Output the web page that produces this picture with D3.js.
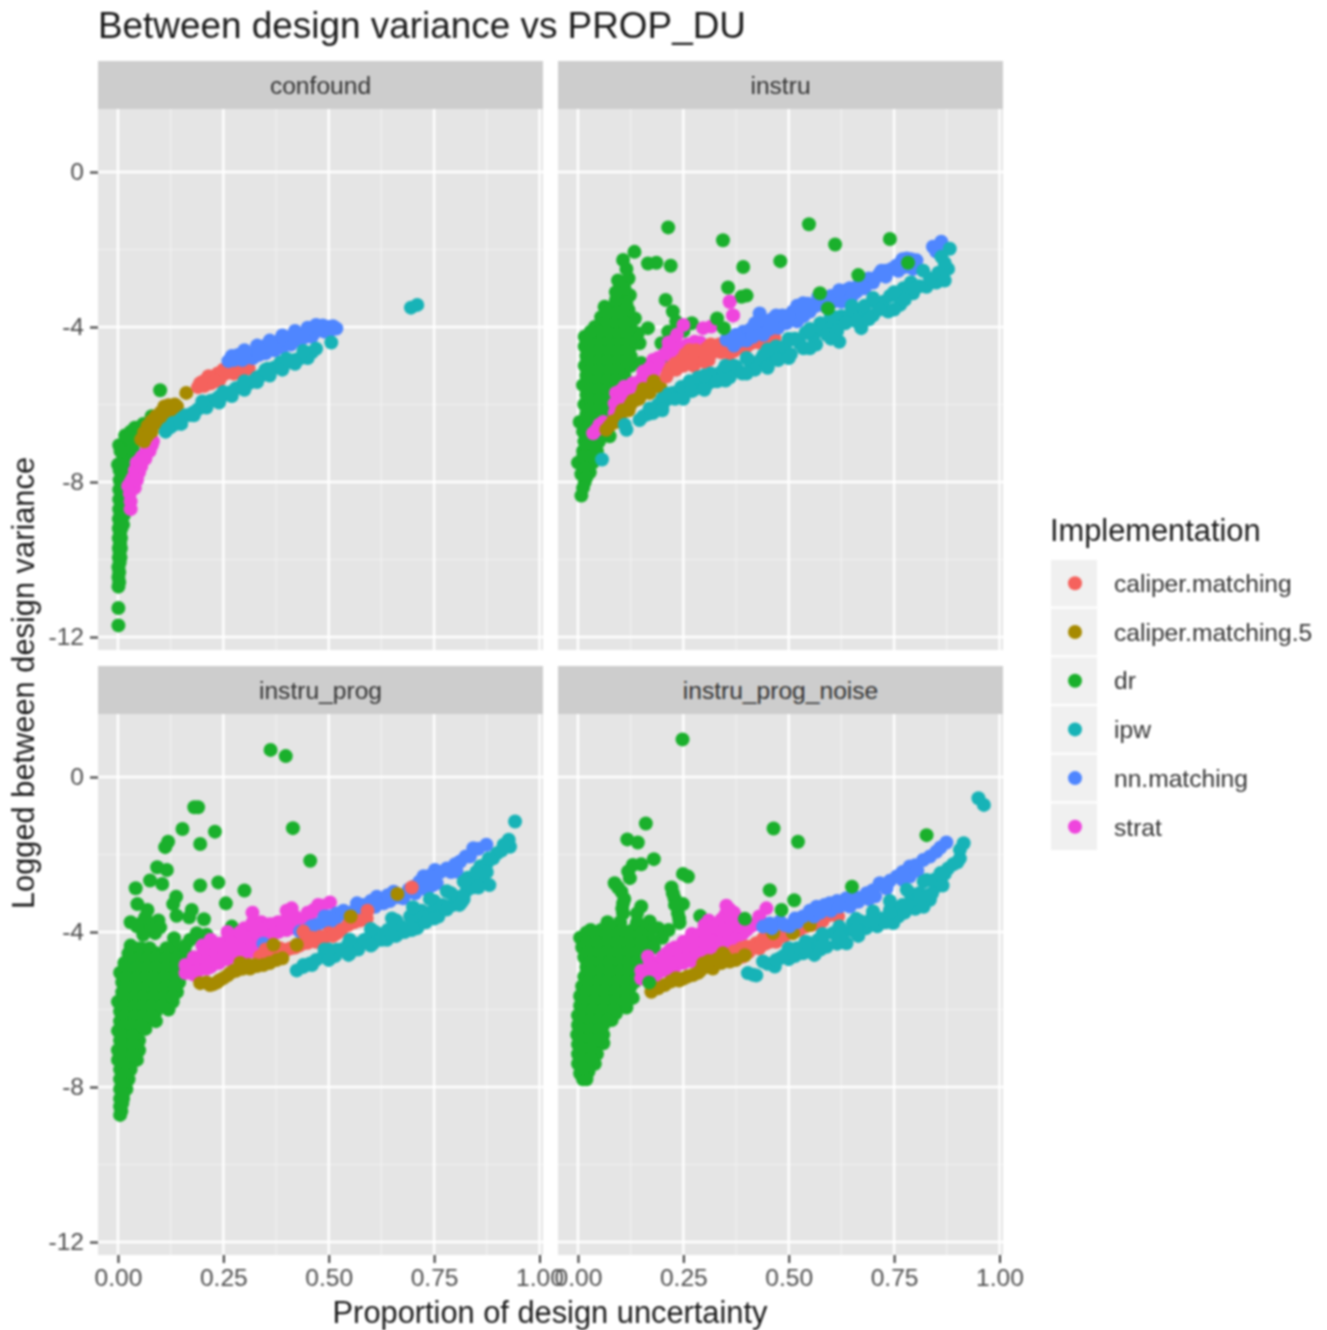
<!DOCTYPE html>
<html>
<head>
<meta charset="utf-8">
<script src="https://d3js.org/d3.v7.min.js"></script>
<style>
html,body{margin:0;padding:0;background:#fff;}
svg{display:block;filter:blur(0.9px);}
text{font-family:"Liberation Sans",Arial,sans-serif;}
</style>
</head>
<body>
<svg id="chart"></svg>
<script>
const width=1327;
const height=1330;

const implementations=['caliper.matching','caliper.matching.5','dr','ipw','nn.matching','strat'];
const colours=['#F5625D','#A68A00','#1AB02C','#17B3B7','#4F86FF','#EF45DD'];
const panelNames=['confound','instru','instru_prog','instru_prog_noise'];
const xTicks=[0,0.25,0.5,0.75,1];
const xMinor=[0.125,0.375,0.625,0.875];
const yTicks=[0,-4,-8,-12];
const yMinor=[-2,-6,-10];

// confound
const confoundDr=[[.001,-11.7],[.001,-11.25],[.001,-10.7],[.001,-10.45],[.001,-10.2],[.002,-9.95],[.006,-9.95],[.002,-9.7],[.007,-9.7],[.002,-9.45],[.007,-9.45],[.002,-9.2],[.008,-9.2],[.002,-8.95],[.008,-8.95],[.003,-8.7],[.01,-8.7],[.003,-8.45],[.012,-8.45],[.003,-8.2],[.012,-8.2],[.004,-7.95],[.016,-7.95],[.004,-7.7],[.018,-7.6],[0,-7.55],[.003,-7.05],[.012,-7.3],[.025,-7.4],[.02,-7.0],[.03,-6.95],[.017,-6.8],[.03,-6.7],[.04,-6.6],[.05,-6.6],[.08,-6.3],[.1,-5.63]];
const confoundDrMore=[[.003,-10.58],[.003,-10.32],[.004,-10.08],[.004,-9.82],[.005,-9.58],[.005,-9.32],[.005,-9.08],[.012,-9.1],[.006,-8.82],[.014,-8.85],[.007,-8.58],[.016,-8.6],[.008,-8.32],[.018,-8.35],[.009,-8.08],[.02,-8.05],[.012,-7.82],[.022,-7.8],[.01,-7.5],[.02,-7.25],[.006,-7.2],[.035,-7.15],[.028,-6.85],[.06,-6.5]];
const confoundStrat=[[.03,-8.5],[.024,-8.1],[.035,-7.9],[.04,-8.15],[.044,-7.5],[.05,-7.75],[.056,-7.35],[.067,-7.2],[.07,-7.05],[.083,-6.95]];
const confoundStratMore=[[.028,-8.3],[.03,-8.0],[.045,-7.95],[.04,-7.7],[.055,-7.6],[.05,-7.45],[.065,-7.4],[.075,-7.2],[.08,-7.05],[.03,-8.7]];
const confoundCal5=[[.055,-6.9],[.062,-6.72],[.07,-6.55],[.08,-6.7],[.08,-6.42],[.09,-6.3],[.1,-6.42],[.102,-6.2],[.115,-6.1],[.125,-6.15],[.135,-6.0],[.162,-5.7]];
const confoundCal5More=[[.062,-6.95],[.07,-6.8],[.075,-6.62],[.088,-6.5],[.095,-6.35],[.108,-6.28],[.11,-6.05],[.12,-6.02],[.13,-6.1],[.14,-6.05]];
const confoundCal=[[.19,-5.55],[.2,-5.42],[.21,-5.35],[.22,-5.45],[.237,-5.2],[.24,-5.38],[.255,-5.2],[.273,-5.07],[.285,-5.15],[.31,-5.07]];
const confoundCalMore=[[.195,-5.45],[.205,-5.52],[.215,-5.27],[.228,-5.32],[.245,-5.28],[.25,-5.1],[.265,-5.15],[.275,-5.2],[.295,-5.12],[.23,-5.4]];
const confoundNn=[[.262,-4.88],[.285,-4.72],[.305,-4.68],[.32,-4.8],[.344,-4.5],[.35,-4.68],[.365,-4.45],[.383,-4.35],[.39,-4.53],[.405,-4.28],[.423,-4.17],[.43,-4.35],[.445,-4.15],[.455,-4.13],[.46,-4.25],[.486,-3.96],[.49,-4.12],[.5,-4.0],[.518,-4.04]];
const confoundNnMore=[[.275,-4.85],[.295,-4.85],[.31,-4.78],[.33,-4.6],[.335,-4.72],[.355,-4.5],[.372,-4.6],[.375,-4.42],[.395,-4.32],[.41,-4.45],[.415,-4.22],[.44,-4.28],[.47,-4.12],[.475,-4.02],[.505,-4.08],[.51,-3.98],[.3,-4.72]];
const confoundNnThick=[[.27,-4.75],[.3,-4.6],[.33,-4.48],[.36,-4.35],[.39,-4.22],[.42,-4.1],[.45,-4.02],[.47,-3.95]];
const confoundIpw=[[.113,-6.7],[.125,-6.58],[.138,-6.5],[.152,-6.35],[.17,-6.27],[.19,-6.12],[.21,-5.97],[.23,-5.88],[.25,-5.76],[.27,-5.67],[.29,-5.55],[.31,-5.45],[.33,-5.3],[.35,-5.2],[.37,-5.05],[.39,-5.0],[.41,-4.87],[.43,-4.82],[.45,-4.7],[.47,-4.56],[.506,-4.4],[.695,-3.5],[.71,-3.43]];
const confoundIpwMore=[[.118,-6.62],[.13,-6.48],[.145,-6.42],[.16,-6.28],[.18,-6.2],[.2,-6.05],[.22,-5.9],[.24,-5.8],[.26,-5.72],[.28,-5.58],[.3,-5.5],[.32,-5.4],[.34,-5.25],[.36,-5.12],[.38,-5.03],[.4,-4.92],[.42,-4.85],[.44,-4.74],[.46,-4.65],[.355,-5.08],[.385,-4.92]];
const confoundIpwThick=[[.15,-6.5],[.18,-6.28],[.21,-6.08],[.24,-5.95],[.27,-5.78],[.3,-5.62],[.33,-5.42],[.36,-5.25],[.39,-5.1],[.42,-4.95],[.45,-4.8],[.2,-5.92],[.25,-5.68],[.3,-5.4],[.35,-5.1],[.4,-4.82],[.44,-4.62]];

// instru
const instruDr=[[.008,-8.35],[.016,-8.0],[.008,-7.8],[.028,-7.75],[0,-7.5],[.02,-7.5],[.035,-7.5],[.012,-7.2],[.03,-7.2],[.045,-7.2],[.015,-6.95],[.035,-6.95],[.05,-6.95],[.075,-6.82],[.012,-6.7],[.035,-6.7],[.055,-6.7],[.004,-6.45],[.025,-6.45],[.05,-6.45],[.02,-6.25],[.04,-6.25],[.065,-6.25],[.015,-6.0],[.04,-6.0],[.06,-6.0],[.08,-6.0],[.02,-5.75],[.04,-5.75],[.06,-5.75],[.08,-5.75],[.012,-5.5],[.035,-5.5],[.06,-5.5],[.08,-5.5],[.1,-5.5],[.02,-5.25],[.04,-5.25],[.065,-5.25],[.085,-5.25],[.11,-5.25],[.016,-5.0],[.04,-5.0],[.06,-5.0],[.08,-5.0],[.105,-5.0],[.125,-5.0],[.15,-4.93],[.02,-4.75],[.04,-4.75],[.06,-4.75],[.085,-4.75],[.105,-4.75],[.125,-4.75],[.016,-4.5],[.04,-4.5],[.06,-4.5],[.085,-4.5],[.105,-4.5],[.125,-4.5],[.146,-4.42],[.198,-4.42],[.2,-4.8],[.016,-4.25],[.04,-4.25],[.065,-4.25],[.085,-4.25],[.11,-4.25],[.13,-4.25],[.142,-4.16],[.04,-4.0],[.065,-4.0],[.085,-4.0],[.105,-4.0],[.125,-4.0],[.166,-4.03],[.214,-4.12],[.055,-3.75],[.08,-3.75],[.1,-3.75],[.12,-3.75],[.135,-3.78],[.063,-3.48],[.083,-3.48],[.105,-3.5],[.12,-3.56],[.1,-3.18],[.123,-3.18],[.095,-2.8],[.12,-2.75],[.107,-2.27],[.134,-2.06],[.166,-2.36],[.186,-2.34],[.22,-2.42],[.214,-1.43],[.208,-3.3],[.225,-3.6],[.233,-3.86],[.27,-3.9],[.25,-4.1]];
const instruDrMore=[[.025,-4.38],[.05,-4.38],[.075,-4.38],[.095,-4.38],[.12,-4.38],[.03,-4.62],[.05,-4.62],[.075,-4.62],[.095,-4.62],[.115,-4.62],[.03,-4.88],[.05,-4.88],[.07,-4.88],[.095,-4.88],[.115,-4.88],[.03,-5.12],[.05,-5.12],[.075,-5.12],[.095,-5.12],[.025,-5.38],[.05,-5.38],[.07,-5.38],[.09,-5.38],[.03,-5.62],[.05,-5.62],[.07,-5.62],[.03,-5.88],[.05,-5.88],[.07,-5.88],[.03,-6.12],[.05,-6.12],[.07,-6.12],[.03,-6.35],[.055,-6.35],[.025,-6.6],[.045,-6.6],[.025,-6.85],[.045,-6.85],[.022,-7.08],[.038,-7.08],[.012,-7.35],[.03,-7.35],[.018,-7.65],[.02,-7.88],[.012,-8.15],[.05,-4.12],[.075,-4.12],[.095,-4.12],[.115,-4.12],[.03,-4.12],[.07,-3.85],[.09,-3.85],[.11,-3.88],[.07,-3.62],[.095,-3.62],[.115,-3.4],[.09,-3.3],[.11,-3.0],[.1,-2.95],[.09,-3.1],[.115,-2.5]];
const instruStrat=[[.036,-6.74],[.051,-6.52],[.087,-6.22],[.087,-5.97],[.09,-5.7],[.11,-5.54],[.118,-5.8],[.15,-5.36],[.15,-5.55],[.178,-5.2],[.16,-5.25],[.178,-4.85],[.195,-5.0],[.225,-4.6],[.23,-4.33],[.215,-4.4],[.24,-4.8],[.277,-4.38],[.28,-4.55],[.297,-4.03],[.316,-3.99],[.36,-3.35],[.368,-3.7],[.25,-3.95]];
const instruStratMore=[[.044,-6.65],[.06,-6.45],[.09,-6.05],[.095,-5.85],[.1,-5.65],[.105,-5.95],[.12,-5.6],[.13,-5.45],[.14,-5.5],[.155,-5.15],[.17,-5.05],[.165,-5.4],[.18,-5.05],[.19,-4.8],[.215,-4.55],[.22,-4.4],[.235,-4.2],[.24,-4.55],[.225,-4.8],[.26,-4.45],[.29,-4.4],[.205,-4.7]];
const instruCal5=[[.067,-6.65],[.083,-6.44],[.1,-6.3],[.115,-6.14],[.125,-6.0],[.138,-5.88],[.15,-5.75],[.162,-5.62],[.175,-5.55],[.19,-5.45]];
const instruCal5More=[[.075,-6.55],[.09,-6.45],[.105,-6.15],[.12,-6.15],[.13,-5.9],[.145,-5.85],[.155,-5.6],[.17,-5.7],[.18,-5.4],[.195,-5.55]];
const instruCal=[[.21,-5.28],[.22,-5.05],[.233,-5.1],[.245,-4.85],[.26,-4.85],[.265,-4.6],[.275,-5.0],[.289,-4.76],[.305,-4.55],[.31,-4.85],[.328,-4.5],[.34,-4.65],[.36,-4.68],[.37,-4.62],[.4,-4.5],[.43,-4.4],[.466,-4.28]];
const instruCalMore=[[.215,-5.15],[.23,-4.95],[.25,-5.0],[.255,-4.7],[.27,-4.85],[.28,-4.6],[.295,-4.65],[.3,-4.9],[.32,-4.65],[.315,-4.45],[.335,-4.45],[.35,-4.55],[.38,-4.55],[.41,-4.42],[.445,-4.35]];
const instruNn=[[.352,-4.33],[.36,-4.3],[.37,-4.48],[.392,-4.12],[.4,-4.35],[.431,-3.65],[.431,-3.95],[.44,-4.2],[.471,-3.78],[.475,-4.02],[.51,-3.6],[.52,-3.85],[.534,-3.39],[.55,-3.6],[.574,-3.3],[.59,-3.5],[.613,-3.18],[.625,-3.35],[.637,-3.05],[.676,-2.88],[.66,-3.1],[.716,-2.62],[.7,-2.85],[.744,-2.5],[.73,-2.7],[.78,-2.23],[.803,-2.28],[.795,-2.5],[.775,-2.45],[.842,-1.93],[.862,-1.8],[.85,-2.05]];
const instruNnMore=[[.375,-4.2],[.385,-4.35],[.41,-4.05],[.415,-4.25],[.445,-3.85],[.455,-4.05],[.46,-3.8],[.485,-3.7],[.495,-3.9],[.5,-3.7],[.525,-3.55],[.535,-3.72],[.545,-3.4],[.565,-3.45],[.58,-3.42],[.6,-3.2],[.605,-3.35],[.625,-3.15],[.645,-3.0],[.65,-3.2],[.665,-2.95],[.69,-2.75],[.68,-3.0],[.71,-2.7],[.73,-2.55],[.755,-2.42],[.765,-2.35],[.79,-2.25],[.76,-2.55]];
const instruNnThick=[[.42,-3.9],[.47,-3.7],[.52,-3.45],[.57,-3.22],[.62,-3.05],[.67,-2.8],[.72,-2.55],[.77,-2.25]];
const instruIpw=[[.057,-7.42],[.115,-6.65],[.111,-6.52],[.146,-6.4],[.165,-6.25],[.178,-6.22],[.19,-6.0],[.21,-5.88],[.225,-5.7],[.241,-5.67],[.26,-5.5],[.275,-5.62],[.289,-5.45],[.305,-5.5],[.32,-5.4],[.336,-5.19],[.352,-5.25],[.37,-5.0],[.384,-5.15],[.405,-4.85],[.423,-4.94],[.44,-4.72],[.455,-4.76],[.478,-4.68],[.47,-4.5],[.5,-4.35],[.526,-4.42],[.54,-4.15],[.558,-4.25],[.575,-3.9],[.6,-4.05],[.62,-4.38],[.605,-3.9],[.625,-3.72],[.645,-3.73],[.672,-4.03],[.676,-3.65],[.69,-3.8],[.708,-3.39],[.736,-3.6],[.725,-3.35],[.764,-3.43],[.772,-3.0],[.795,-3.13],[.79,-2.85],[.827,-2.96],[.819,-2.55],[.85,-2.85],[.866,-2.66],[.878,-2.5],[.862,-2.19],[.87,-2.35],[.882,-1.98]];
const instruIpwMore=[[.155,-6.3],[.17,-6.1],[.185,-6.1],[.2,-5.85],[.2,-6.1],[.215,-5.72],[.23,-5.85],[.245,-5.55],[.25,-5.75],[.265,-5.4],[.27,-5.65],[.285,-5.3],[.3,-5.55],[.315,-5.2],[.33,-5.4],[.345,-5.1],[.36,-5.3],[.375,-5.02],[.39,-5.2],[.41,-4.95],[.42,-5.1],[.435,-4.82],[.45,-5.0],[.46,-4.6],[.475,-4.85],[.49,-4.5],[.505,-4.7],[.515,-4.3],[.535,-4.55],[.55,-4.1],[.565,-4.45],[.58,-4.05],[.59,-4.2],[.61,-3.75],[.615,-4.1],[.635,-3.9],[.65,-3.55],[.66,-3.85],[.68,-3.45],[.7,-3.7],[.715,-3.55],[.74,-3.2],[.75,-3.55],[.76,-3.2],[.775,-3.3],[.8,-3.0],[.81,-2.95],[.835,-2.75],[.855,-2.6],[.87,-2.8]];
const instruIpwThick=[[.2,-6.15],[.25,-5.85],[.3,-5.62],[.35,-5.38],[.4,-5.2],[.45,-5.05],[.5,-4.8],[.55,-4.55],[.6,-4.3],[.3,-5.25],[.35,-5.0],[.4,-4.8],[.45,-4.58],[.5,-4.3],[.55,-4.05],[.6,-3.72],[.65,-3.45],[.7,-3.25],[.75,-3.1]];
const instruDrTop=[[.783,-2.34],[.593,-3.52],[.574,-3.13],[.665,-2.66],[.74,-1.73],[.61,-1.87],[.548,-1.35],[.48,-2.3],[.392,-2.45],[.344,-1.76],[.356,-2.98],[.388,-3.22],[.4,-3.19],[.33,-3.78],[.346,-4.03]];
const instruStratTop=[[.36,-3.35],[.368,-3.7]];

// instru_prog
const progDr=[[.362,.7],[.398,.54],[.181,-.78],[.19,-.78],[.153,-1.34],[.23,-1.41],[.195,-1.73],[.119,-1.67],[.112,-1.81],[.415,-1.32],[.456,-2.16],[.093,-2.33],[.116,-2.4],[.076,-2.67],[.105,-2.76],[.042,-2.87],[.195,-2.8],[.238,-2.72],[.3,-2.93],[.256,-3.26],[.138,-3.09],[.131,-3.28],[.046,-3.28],[.07,-3.43],[.139,-3.58],[.175,-3.43],[.169,-3.62],[.204,-3.67],[.096,-3.7],[.03,-3.75],[.056,-3.77],[.072,-3.95],[.088,-4.03],[.06,-4.07],[.133,-4.16],[.187,-4.03],[.171,-4.2],[.21,-4.07],[.27,-3.86],[.03,-4.35],[.135,-4.4],[.025,-4.55],[.045,-4.55],[.07,-4.55],[.09,-4.55],[.11,-4.55],[.13,-4.55],[.16,-4.55],[.015,-4.8],[.035,-4.8],[.06,-4.8],[.08,-4.8],[.1,-4.8],[.125,-4.8],[.15,-4.8],[.005,-5.05],[.03,-5.05],[.05,-5.05],[.075,-5.05],[.095,-5.05],[.12,-5.05],[.145,-5.05],[.01,-5.3],[.035,-5.3],[.06,-5.3],[.08,-5.3],[.105,-5.3],[.125,-5.3],[.145,-5.3],[.01,-5.55],[.03,-5.55],[.05,-5.55],[.075,-5.55],[.095,-5.55],[.12,-5.55],[.14,-5.55],[0,-5.8],[.025,-5.8],[.05,-5.8],[.07,-5.8],[.095,-5.8],[.12,-5.8],[.13,-5.8],[.005,-6.05],[.03,-6.05],[.05,-6.05],[.07,-6.05],[.09,-6.05],[.12,-6.0],[.005,-6.3],[.025,-6.3],[.045,-6.3],[.07,-6.3],[.09,-6.3],[0,-6.55],[.02,-6.55],[.045,-6.55],[.065,-6.5],[.005,-6.8],[.025,-6.8],[.05,-6.8],[0,-7.05],[.025,-7.05],[.05,-7.05],[0,-7.3],[.02,-7.3],[.045,-7.3],[.005,-7.55],[.03,-7.55],[.005,-7.8],[.025,-7.8],[.005,-8.05],[.02,-8.05],[.005,-8.3],[.012,-8.3],[.005,-8.5],[.005,-8.72]];
const progDrMore=[[.04,-4.42],[.055,-4.42],[.075,-4.42],[.115,-4.42],[.155,-4.68],[.03,-4.68],[.05,-4.68],[.07,-4.68],[.09,-4.68],[.115,-4.68],[.14,-4.68],[.02,-4.92],[.045,-4.92],[.07,-4.92],[.09,-4.92],[.115,-4.92],[.135,-4.92],[.02,-5.18],[.045,-5.18],[.065,-5.18],[.085,-5.18],[.11,-5.18],[.135,-5.18],[.02,-5.42],[.045,-5.42],[.07,-5.42],[.09,-5.42],[.115,-5.42],[.135,-5.42],[.015,-5.68],[.04,-5.68],[.06,-5.68],[.085,-5.68],[.11,-5.68],[.13,-5.68],[.015,-5.92],[.04,-5.92],[.06,-5.92],[.08,-5.92],[.105,-5.92],[.015,-6.18],[.04,-6.18],[.06,-6.18],[.08,-6.18],[.015,-6.42],[.035,-6.42],[.055,-6.42],[.012,-6.68],[.035,-6.68],[.012,-6.92],[.035,-6.92],[.012,-7.18],[.035,-7.18],[.012,-7.42],[.015,-7.68],[.012,-7.92],[.012,-8.18],[.01,-8.42],[.008,-8.62],[.055,-3.9],[.045,-3.85],[.08,-3.85],[.1,-3.88],[.065,-3.62],[.16,-4.35],[.2,-4.2]];
const progStrat=[[.16,-5.06],[.16,-4.85],[.18,-5.1],[.18,-4.9],[.18,-4.65],[.2,-4.85],[.2,-4.6],[.2,-4.35],[.22,-4.9],[.22,-4.65],[.22,-4.4],[.22,-4.2],[.24,-4.8],[.24,-4.55],[.24,-4.3],[.26,-4.7],[.26,-4.45],[.26,-4.2],[.26,-4.0],[.28,-4.6],[.28,-4.35],[.28,-4.1],[.3,-4.6],[.3,-4.3],[.3,-4.05],[.3,-3.9],[.32,-4.5],[.32,-4.2],[.32,-3.95],[.32,-3.75],[.319,-3.5],[.34,-4.2],[.34,-3.95],[.34,-3.75],[.36,-4.05],[.36,-3.8],[.38,-4.0],[.38,-3.75],[.4,-3.95],[.4,-3.7],[.4,-3.45],[.412,-3.39],[.42,-3.9],[.42,-3.6],[.44,-3.75],[.46,-3.5],[.475,-3.3],[.464,-3.43],[.503,-3.24]];
const progStratMore=[[.17,-4.95],[.19,-4.75],[.19,-5.0],[.21,-4.7],[.21,-4.95],[.21,-4.45],[.23,-4.75],[.23,-4.5],[.23,-4.3],[.25,-4.65],[.25,-4.4],[.27,-4.55],[.27,-4.3],[.27,-4.1],[.29,-4.45],[.29,-4.2],[.29,-4.0],[.31,-4.4],[.31,-4.15],[.33,-4.35],[.33,-4.05],[.33,-3.85],[.35,-4.15],[.35,-3.9],[.37,-4.0],[.37,-3.8],[.39,-3.9],[.39,-3.75],[.41,-3.8],[.41,-3.55],[.43,-3.85],[.43,-3.7],[.45,-3.65],[.45,-3.5],[.485,-3.32]];
const progNn=[[.345,-4.3],[.432,-3.99],[.448,-3.95],[.471,-3.82],[.503,-3.73],[.519,-3.52],[.558,-3.47],[.567,-3.26],[.614,-3.09],[.63,-3.26],[.654,-2.96],[.677,-3.13],[.701,-2.83],[.725,-2.56],[.733,-2.91],[.752,-2.4],[.756,-2.74],[.78,-2.36],[.803,-2.44],[.812,-2.18],[.843,-1.84],[.874,-1.75],[.835,-2.05],[.49,-3.6],[.59,-3.3]];
const progNnMore=[[.46,-3.85],[.485,-3.75],[.5,-3.6],[.515,-3.7],[.535,-3.45],[.545,-3.6],[.58,-3.3],[.585,-3.45],[.6,-3.2],[.61,-3.35],[.64,-3.05],[.645,-3.2],[.665,-3.1],[.69,-2.9],[.705,-3.0],[.715,-2.7],[.74,-2.55],[.745,-2.8],[.765,-2.45],[.79,-2.45],[.8,-2.25],[.825,-2.05],[.855,-1.85]];
const progCal=[[.337,-4.63],[.369,-4.55],[.384,-4.42],[.4,-4.46],[.44,-3.99],[.44,-4.29],[.47,-4.25],[.48,-4.12],[.5,-4.03],[.52,-4.03],[.546,-3.82],[.59,-3.65],[.592,-3.45],[.697,-2.85],[.35,-4.45],[.42,-4.4]];
const progCalMore=[[.355,-4.55],[.39,-4.5],[.41,-4.42],[.43,-4.35],[.45,-4.28],[.46,-4.15],[.49,-4.15],[.51,-4.1],[.53,-3.95],[.56,-3.75],[.575,-3.7]];
const progCal5=[[.195,-5.32],[.218,-5.37],[.25,-5.19],[.266,-5.06],[.29,-4.8],[.313,-4.94],[.345,-4.85],[.377,-4.72],[.369,-4.33],[.424,-4.33],[.552,-3.6],[.663,-3.02],[.235,-5.3],[.28,-5.0],[.33,-4.88]];
const progCal5More=[[.21,-5.3],[.225,-5.35],[.24,-5.25],[.26,-5.12],[.275,-5.0],[.295,-4.95],[.31,-4.85],[.325,-4.85],[.36,-4.8],[.39,-4.68]];
const progIpw=[[.424,-4.99],[.44,-4.9],[.456,-4.81],[.487,-4.63],[.49,-4.45],[.519,-4.46],[.547,-4.59],[.547,-4.3],[.574,-4.29],[.598,-4.12],[.61,-4.0],[.638,-4.2],[.654,-3.9],[.66,-3.7],[.697,-3.95],[.693,-3.6],[.72,-3.45],[.74,-3.5],[.75,-3.2],[.78,-3.34],[.79,-3.0],[.816,-3.22],[.828,-2.92],[.83,-2.6],[.867,-2.57],[.881,-2.79],[.86,-2.3],[.875,-2.23],[.89,-2.1],[.899,-1.97],[.93,-1.8],[.927,-1.62],[.942,-1.15]];
const progIpwMore=[[.44,-4.85],[.47,-4.72],[.5,-4.58],[.515,-4.62],[.53,-4.45],[.56,-4.45],[.57,-4.45],[.585,-4.2],[.605,-4.3],[.62,-4.05],[.625,-4.2],[.64,-3.95],[.66,-4.1],[.67,-3.85],[.68,-4.0],[.7,-3.75],[.71,-3.9],[.725,-3.6],[.73,-3.75],[.755,-3.45],[.76,-3.6],[.77,-3.3],[.795,-3.3],[.805,-3.1],[.81,-3.3],[.82,-3.05],[.84,-2.85],[.85,-2.7],[.86,-2.55],[.855,-2.85],[.875,-2.45],[.88,-2.1],[.91,-1.9],[.915,-1.75]];
const progIpwThick=[[.5,-4.45],[.55,-4.2],[.6,-3.92],[.65,-3.65],[.7,-3.36],[.74,-3.15],[.78,-2.95],[.82,-2.7],[.85,-2.45],[.46,-4.85],[.5,-4.72],[.55,-4.55],[.6,-4.35],[.65,-4.1],[.7,-3.92],[.75,-3.65],[.78,-3.42],[.82,-3.15]];

// instru_prog_noise
const noiseDr=[[.248,.97],[.161,-1.2],[.117,-1.61],[.142,-1.69],[.18,-2.12],[.15,-2.25],[.13,-2.27],[.119,-2.44],[.123,-2.61],[.087,-2.74],[.103,-2.96],[.249,-2.5],[.261,-2.57],[.222,-2.85],[.229,-3.13],[.249,-3.28],[.107,-3.26],[.15,-3.34],[.107,-3.52],[.14,-3.52],[.237,-3.52],[.241,-3.76],[.29,-3.59],[.07,-3.75],[.1,-3.75],[.14,-3.75],[.17,-3.73],[.03,-3.95],[.055,-3.95],[.08,-3.95],[.105,-3.95],[.13,-3.95],[.16,-3.95],[.19,-3.9],[.215,-3.95],[.005,-4.15],[.03,-4.15],[.055,-4.15],[.08,-4.15],[.105,-4.15],[.125,-4.2],[.17,-4.15],[.2,-4.15],[.18,-4.25],[.01,-4.4],[.035,-4.4],[.06,-4.4],[.08,-4.4],[.105,-4.4],[.135,-4.4],[.16,-4.35],[.18,-4.4],[.015,-4.65],[.04,-4.65],[.06,-4.65],[.085,-4.65],[.105,-4.65],[.13,-4.65],[.15,-4.65],[.02,-4.9],[.045,-4.9],[.065,-4.9],[.09,-4.9],[.11,-4.9],[.135,-4.9],[.15,-4.9],[.015,-5.15],[.035,-5.15],[.06,-5.15],[.08,-5.15],[.105,-5.15],[.125,-5.15],[.145,-5.15],[.01,-5.4],[.03,-5.4],[.055,-5.4],[.08,-5.4],[.1,-5.4],[.125,-5.4],[.005,-5.65],[.03,-5.65],[.05,-5.65],[.075,-5.65],[.1,-5.65],[.13,-5.7],[.005,-5.9],[.025,-5.9],[.05,-5.9],[.075,-5.9],[.1,-5.9],[.115,-5.95],[0,-6.15],[.02,-6.15],[.045,-6.15],[.07,-6.15],[.09,-6.1],[0,-6.4],[.02,-6.4],[.04,-6.4],[.06,-6.4],[.08,-6.27],[-.002,-6.65],[.02,-6.65],[.04,-6.65],[.06,-6.65],[0,-6.9],[.02,-6.9],[.04,-6.9],[.06,-6.87],[0,-7.15],[.02,-7.15],[.045,-7.15],[0,-7.4],[.02,-7.4],[.04,-7.4],[.005,-7.65],[.025,-7.6],[.012,-7.8],[.02,-7.8]];
const noiseDrMore=[[.02,-4.02],[.045,-4.05],[.07,-4.05],[.095,-4.05],[.12,-4.05],[.15,-4.05],[.02,-4.28],[.045,-4.28],[.07,-4.28],[.095,-4.28],[.12,-4.28],[.15,-4.25],[.025,-4.52],[.05,-4.52],[.07,-4.52],[.095,-4.52],[.12,-4.52],[.145,-4.52],[.03,-4.78],[.055,-4.78],[.075,-4.78],[.1,-4.78],[.12,-4.78],[.14,-4.78],[.03,-5.02],[.055,-5.02],[.075,-5.02],[.1,-5.02],[.12,-5.02],[.14,-5.02],[.025,-5.28],[.05,-5.28],[.07,-5.28],[.095,-5.28],[.115,-5.28],[.135,-5.28],[.02,-5.52],[.045,-5.52],[.065,-5.52],[.09,-5.52],[.115,-5.52],[.015,-5.78],[.04,-5.78],[.065,-5.78],[.09,-5.78],[.115,-5.78],[.015,-6.02],[.035,-6.02],[.06,-6.02],[.085,-6.02],[.012,-6.28],[.03,-6.28],[.05,-6.28],[.07,-6.28],[.01,-6.52],[.03,-6.52],[.05,-6.52],[.01,-6.78],[.03,-6.78],[.05,-6.78],[.01,-7.02],[.03,-7.02],[.01,-7.28],[.03,-7.28],[.012,-7.52],[.105,-3.4],[.11,-3.15],[.095,-2.85],[.23,-3.3],[.225,-3.0],[.24,-3.65]];
const noiseStrat=[[.15,-5.2],[.15,-5.0],[.17,-5.3],[.17,-5.05],[.17,-4.75],[.166,-4.63],[.19,-5.05],[.19,-4.8],[.21,-5.0],[.21,-4.75],[.21,-4.55],[.23,-4.9],[.23,-4.65],[.23,-4.4],[.25,-4.8],[.25,-4.55],[.25,-4.25],[.27,-4.75],[.27,-4.5],[.27,-4.2],[.27,-4.05],[.29,-4.55],[.29,-4.3],[.29,-4.05],[.31,-4.45],[.31,-4.2],[.31,-3.95],[.31,-3.7],[.33,-4.3],[.33,-4.05],[.33,-3.8],[.35,-4.3],[.35,-4.05],[.35,-3.8],[.35,-3.55],[.352,-3.32],[.37,-4.2],[.37,-3.95],[.37,-3.7],[.37,-3.5],[.39,-4.05],[.39,-3.8],[.41,-3.85],[.43,-3.75],[.43,-3.6],[.447,-3.39]];
const noiseStratMore=[[.16,-5.12],[.18,-4.92],[.18,-5.18],[.2,-4.9],[.2,-4.65],[.22,-4.85],[.22,-4.6],[.22,-4.45],[.24,-4.72],[.24,-4.45],[.26,-4.65],[.26,-4.35],[.28,-4.6],[.28,-4.4],[.28,-4.18],[.3,-4.5],[.3,-4.25],[.3,-4.0],[.3,-3.82],[.32,-4.38],[.32,-4.12],[.32,-3.88],[.34,-4.2],[.34,-3.95],[.34,-3.68],[.36,-4.18],[.36,-3.9],[.36,-3.62],[.38,-4.1],[.38,-3.85],[.38,-3.65],[.4,-3.95],[.42,-3.8],[.36,-3.42]];
const noiseCal=[[.388,-4.42],[.392,-4.63],[.4,-4.38],[.423,-4.29],[.44,-4.16],[.455,-4.25],[.463,-4.2],[.479,-4.12],[.51,-4.0],[.54,-3.86],[.567,-3.77],[.597,-3.56],[.617,-3.6]];
const noiseCalMore=[[.37,-4.5],[.38,-4.6],[.405,-4.52],[.41,-4.38],[.43,-4.42],[.445,-4.3],[.47,-4.25],[.49,-4.1],[.525,-3.95],[.555,-3.82],[.58,-3.72]];
const noiseCal5=[[.174,-5.54],[.206,-5.37],[.233,-5.19],[.25,-5.2],[.273,-5.11],[.297,-4.81],[.32,-4.94],[.344,-4.55],[.36,-4.76],[.33,-4.7],[.29,-5.0],[.396,-4.6],[.463,-4.03],[.51,-4.03],[.55,-3.82]];
const noiseCal5More=[[.19,-5.45],[.22,-5.28],[.24,-5.25],[.26,-5.15],[.285,-5.05],[.305,-4.9],[.31,-4.75],[.34,-4.8],[.35,-4.65],[.375,-4.72]];
const noiseNn=[[.439,-3.86],[.479,-3.73],[.502,-3.86],[.534,-3.6],[.566,-3.35],[.56,-3.6],[.597,-3.26],[.6,-3.45],[.637,-3.13],[.645,-3.34],[.685,-3.0],[.69,-3.15],[.716,-2.74],[.732,-2.87],[.756,-2.57],[.787,-2.31],[.787,-2.57],[.819,-2.14],[.85,-1.93],[.874,-1.69],[.46,-3.9]];
const noiseNnMore=[[.455,-3.78],[.49,-3.82],[.515,-3.65],[.52,-3.75],[.55,-3.45],[.575,-3.5],[.585,-3.3],[.615,-3.2],[.62,-3.35],[.66,-3.1],[.665,-3.22],[.7,-2.92],[.705,-3.08],[.74,-2.68],[.77,-2.45],[.77,-2.65],[.8,-2.28],[.805,-2.42],[.835,-2.05],[.86,-1.82]];
const noiseIpw=[[.403,-5.06],[.423,-5.12],[.439,-4.76],[.467,-4.89],[.479,-4.68],[.5,-4.7],[.534,-4.55],[.561,-4.59],[.55,-4.29],[.59,-4.38],[.637,-4.29],[.605,-4.03],[.63,-4.0],[.652,-3.77],[.684,-3.9],[.7,-3.52],[.72,-3.65],[.748,-3.77],[.74,-3.43],[.77,-3.3],[.788,-3.26],[.788,-3.0],[.835,-3.17],[.81,-3.0],[.827,-2.66],[.85,-2.83],[.878,-2.36],[.865,-2.55],[.906,-2.1],[.906,-1.88],[.915,-1.71],[.95,-.55],[.963,-.72]];
const noiseIpwMore=[[.415,-5.1],[.45,-4.82],[.47,-4.72],[.49,-4.6],[.515,-4.62],[.52,-4.42],[.54,-4.42],[.575,-4.45],[.57,-4.2],[.58,-4.15],[.615,-4.3],[.625,-4.18],[.655,-3.98],[.665,-4.1],[.67,-3.72],[.69,-3.72],[.71,-3.85],[.73,-3.75],[.755,-3.4],[.76,-3.6],[.775,-3.5],[.8,-3.4],[.81,-3.2],[.82,-3.35],[.84,-3.0],[.845,-2.65],[.865,-2.8],[.87,-2.5],[.89,-2.25],[.9,-2.2]];
const noiseIpwThick=[[.5,-4.42],[.54,-4.25],[.58,-4.05],[.62,-3.86],[.66,-3.66],[.7,-3.47],[.74,-3.2],[.78,-2.91],[.82,-2.7],[.86,-2.48],[.58,-4.35],[.62,-4.12],[.66,-3.95],[.7,-3.7],[.74,-3.5],[.78,-3.3],[.83,-3.05]];
const noiseDrTop=[[.169,-5.3],[.396,-3.66],[.483,-3.43],[.464,-1.33],[.522,-1.67],[.827,-1.5],[.65,-2.83],[.455,-2.92],[.513,-3.18]];

// draw order of each facet, index is into implementations
const panelLayers=[
	[[2,confoundDr],[2,confoundDrMore],[5,confoundStrat],[5,confoundStratMore],[1,confoundCal5],[1,confoundCal5More],[0,confoundCal],[0,confoundCalMore],[4,confoundNn],[4,confoundNnMore],[4,confoundNnThick],[3,confoundIpw],[3,confoundIpwMore],[3,confoundIpwThick]],
	[[2,instruDr],[2,instruDrMore],[5,instruStrat],[5,instruStratMore],[1,instruCal5],[1,instruCal5More],[0,instruCal],[0,instruCalMore],[4,instruNn],[4,instruNnMore],[4,instruNnThick],[3,instruIpw],[3,instruIpwMore],[3,instruIpwThick],[2,instruDrTop],[5,instruStratTop]],
	[[2,progDr],[2,progDrMore],[5,progStrat],[5,progStratMore],[4,progNn],[4,progNnMore],[0,progCal],[0,progCalMore],[1,progCal5],[1,progCal5More],[3,progIpw],[3,progIpwMore],[3,progIpwThick]],
	[[2,noiseDr],[2,noiseDrMore],[5,noiseStrat],[5,noiseStratMore],[0,noiseCal],[0,noiseCalMore],[1,noiseCal5],[1,noiseCal5More],[4,noiseNn],[4,noiseNnMore],[3,noiseIpw],[3,noiseIpwMore],[3,noiseIpwThick],[2,noiseDrTop]]
];

const pointR=7;
const panelW=445;
const panelH=541;
const stripH=48;
const colX=[98,558];
const rowY=[109,714];

const svg=d3.select('#chart').attr('width',width).attr('height',height);

svg.append('text').attr('x',98).attr('y',38)
	.attr('font-size',36.9).attr('fill','#1a1a1a').text('Between design variance vs PROP_DU');

panelNames.forEach(function(name,i){
	const left=colX[i%2];
	const top=rowY[Math.floor(i/2)];
	const x=d3.scaleLinear().domain([-0.0474,1.0083]).range([left,left+panelW]);
	const y=d3.scaleLinear().domain([-12.335,1.626]).range([top+panelH,top]);

	svg.append('rect').attr('x',left).attr('y',top).attr('width',panelW).attr('height',panelH).attr('fill','#E5E5E5');
	svg.append('rect').attr('x',left).attr('y',top-stripH).attr('width',panelW).attr('height',stripH).attr('fill','#CDCDCD');
	svg.append('text').attr('x',left+panelW/2).attr('y',top-stripH/2+8.5)
		.attr('text-anchor','middle').attr('font-size',24.6).attr('fill','#333').text(name);

	const grid=svg.append('g');
	grid.selectAll('.vminor').data(xMinor).enter().append('line')
		.attr('x1',d=>x(d)).attr('x2',d=>x(d)).attr('y1',top).attr('y2',top+panelH)
		.attr('stroke','#F2F2F2').attr('stroke-width',1.2);
	grid.selectAll('.hminor').data(yMinor).enter().append('line')
		.attr('y1',d=>y(d)).attr('y2',d=>y(d)).attr('x1',left).attr('x2',left+panelW)
		.attr('stroke','#F2F2F2').attr('stroke-width',1.2);
	grid.selectAll('.vmajor').data(xTicks).enter().append('line')
		.attr('x1',d=>x(d)).attr('x2',d=>x(d)).attr('y1',top).attr('y2',top+panelH)
		.attr('stroke','#fff').attr('stroke-width',2.4);
	grid.selectAll('.hmajor').data(yTicks).enter().append('line')
		.attr('y1',d=>y(d)).attr('y2',d=>y(d)).attr('x1',left).attr('x2',left+panelW)
		.attr('stroke','#fff').attr('stroke-width',2.4);

	panelLayers[i].forEach(function(layer){
		svg.append('g').attr('fill',colours[layer[0]])
			.selectAll('circle').data(layer[1]).enter().append('circle')
			.attr('cx',d=>x(d[0])).attr('cy',d=>y(d[1])).attr('r',pointR);
	});

	if(i%2==0){
		const axisY=svg.append('g').attr('transform','translate('+left+',0)')
			.call(d3.axisLeft(y).tickValues(yTicks).tickSize(8).tickPadding(6).tickFormat(d=>String(d)));
		styleAxis(axisY);
	}
	if(i>=2){
		const axisX=svg.append('g').attr('transform','translate(0,'+(top+panelH)+')')
			.call(d3.axisBottom(x).tickValues(xTicks).tickSize(8).tickPadding(6).tickFormat(d3.format('.2f')));
		styleAxis(axisX);
	}
});

function styleAxis(g){
	g.select('.domain').remove();
	g.selectAll('.tick line').attr('stroke','#333').attr('stroke-width',2);
	g.selectAll('.tick text').attr('fill','#4D4D4D').attr('font-size',24.6)
		.attr('font-family','"Liberation Sans",Arial,sans-serif');
}

svg.append('text').attr('x',550).attr('y',1323).attr('text-anchor','middle')
	.attr('font-size',30.8).attr('fill','#1a1a1a').text('Proportion of design uncertainty');
svg.append('text').attr('transform','translate(34,683) rotate(-90)').attr('text-anchor','middle')
	.attr('font-size',30.8).attr('fill','#1a1a1a').text('Logged between design variance');

// legend
svg.append('text').attr('x',1050).attr('y',541).attr('font-size',30.8).attr('fill','#1a1a1a').text('Implementation');
const legendItem=svg.selectAll('.legend-item').data(implementations).enter().append('g')
	.attr('class','legend-item')
	.attr('transform',(d,i)=>'translate(1051,'+(560+i*48.7)+')');
legendItem.append('rect').attr('width',46).attr('height',46.5).attr('fill','#F0F0F0');
legendItem.append('circle').attr('cx',24).attr('cy',23.3).attr('r',pointR).attr('fill',(d,i)=>colours[i]);
legendItem.append('text').attr('x',63).attr('y',32).attr('font-size',24.6).attr('fill','#333').text(d=>d);
</script>
</body>
</html>
